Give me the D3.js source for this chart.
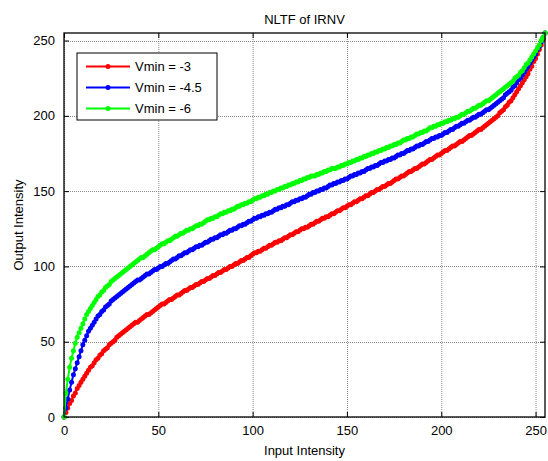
<!DOCTYPE html>
<html>
<head>
<meta charset="utf-8">
<script src="https://cdn.jsdelivr.net/npm/d3@7"></script>
<style>
  body { margin: 0; background: #fff; }
  svg text { font-family: "Liberation Sans", Arial, Helvetica, sans-serif; fill: #000; }
</style>
</head>
<body>
<div id="chart"></div>
<script>
// Output intensity for each input intensity (array index = input intensity, 0..255)
const vminLabels = ["Vmin = -3", "Vmin = -4.5", "Vmin = -6"];
const lineColors = ["#ff0000", "#0000ff", "#00ff00"];
const xTicks = [0, 50, 100, 150, 200, 250];
const yTicks = [0, 50, 100, 150, 200, 250];

const vmin3 = [
  0, 3, 6, 9, 11, 14, 16, 19, 21, 23, 25,
  27, 29, 31, 33, 34, 36, 38, 39, 41, 42,
  44, 45, 46, 48, 49, 50, 51, 53, 54, 55,
  56, 57, 58, 59, 60, 61, 62, 63, 63, 64,
  65, 66, 67, 68, 68, 69, 70, 71, 72, 73,
  74, 75, 75, 76, 77, 78, 78, 79, 80, 81,
  81, 82, 83, 84, 84, 85, 86, 86, 87, 88,
  88, 89, 90, 90, 91, 92, 92, 93, 94, 94,
  95, 96, 96, 97, 98, 98, 99, 100, 100, 101,
  102, 102, 103, 104, 104, 105, 106, 106, 107, 108,
  109, 109, 110, 110, 111, 112, 112, 113, 114, 114,
  115, 116, 116, 117, 117, 118, 119, 119, 120, 121,
  121, 122, 123, 123, 124, 125, 125, 126, 126, 127,
  128, 128, 129, 130, 130, 131, 132, 132, 133, 133,
  134, 135, 135, 136, 137, 137, 138, 139, 139, 140,
  141, 141, 142, 143, 143, 144, 145, 145, 146, 147,
  147, 148, 149, 149, 150, 151, 151, 152, 153, 153,
  154, 155, 155, 156, 157, 158, 158, 159, 160, 160,
  161, 162, 163, 163, 164, 165, 165, 166, 167, 168,
  168, 169, 170, 171, 171, 172, 173, 174, 174, 175,
  176, 177, 177, 178, 179, 180, 180, 181, 182, 183,
  183, 184, 185, 186, 187, 187, 188, 189, 190, 191,
  191, 192, 193, 194, 195, 196, 197, 198, 199, 200,
  202, 203, 204, 206, 207, 209, 210, 212, 214, 216,
  218, 220, 222, 224, 226, 228, 231, 233, 236, 238,
  241, 244, 247, 251, 255
];

const vmin45 = [
  0, 6, 12, 18, 23, 28, 32, 36, 40, 44, 48,
  51, 54, 57, 59, 61, 63, 65, 67, 68, 70,
  71, 73, 74, 75, 77, 78, 79, 80, 81, 82,
  83, 84, 85, 86, 87, 88, 89, 90, 91, 91,
  92, 93, 94, 95, 95, 96, 97, 98, 98, 99,
  100, 100, 101, 102, 102, 103, 104, 105, 105, 106,
  107, 107, 108, 109, 109, 110, 111, 111, 112, 113,
  113, 114, 114, 115, 116, 116, 117, 118, 118, 119,
  119, 120, 121, 121, 122, 122, 123, 124, 124, 125,
  125, 126, 127, 127, 128, 128, 129, 130, 130, 131,
  132, 132, 133, 133, 134, 134, 135, 135, 136, 136,
  137, 138, 138, 139, 139, 140, 140, 141, 141, 142,
  143, 143, 144, 144, 145, 145, 146, 146, 147, 148,
  148, 149, 149, 150, 150, 151, 151, 152, 152, 153,
  154, 154, 155, 155, 156, 156, 157, 157, 158, 158,
  159, 160, 160, 161, 161, 162, 162, 163, 163, 164,
  165, 165, 166, 166, 167, 167, 168, 169, 169, 170,
  170, 171, 171, 172, 172, 173, 174, 174, 175, 175,
  176, 177, 177, 178, 178, 179, 180, 180, 181, 181,
  182, 183, 183, 184, 185, 185, 186, 186, 187, 187,
  188, 189, 189, 190, 191, 191, 192, 193, 193, 194,
  195, 195, 196, 197, 197, 198, 199, 199, 200, 201,
  201, 202, 203, 204, 204, 205, 206, 207, 208, 209,
  210, 211, 212, 214, 215, 216, 217, 219, 220, 222,
  224, 225, 227, 229, 231, 233, 235, 237, 239, 241,
  244, 246, 249, 252, 255
];

const vmin6 = [
  0, 16, 25, 33, 39, 44, 49, 53, 56, 59, 62,
  65, 68, 70, 72, 74, 76, 78, 80, 81, 83,
  84, 86, 87, 88, 90, 91, 92, 93, 94, 95,
  96, 97, 98, 99, 100, 101, 102, 103, 104, 105,
  106, 106, 107, 108, 109, 110, 111, 111, 112, 113,
  114, 115, 115, 116, 117, 117, 118, 119, 120, 120,
  121, 122, 122, 123, 124, 124, 125, 125, 126, 127,
  127, 128, 128, 129, 130, 131, 131, 132, 132, 133,
  133, 134, 135, 135, 136, 136, 137, 137, 138, 138,
  139, 140, 140, 141, 141, 142, 142, 143, 143, 144,
  145, 145, 146, 146, 147, 147, 148, 148, 149, 149,
  150, 150, 151, 151, 152, 152, 153, 153, 154, 154,
  155, 155, 156, 156, 157, 157, 158, 158, 159, 159,
  160, 160, 160, 161, 161, 162, 162, 163, 163, 164,
  164, 165, 165, 165, 166, 166, 167, 167, 168, 168,
  169, 169, 170, 170, 171, 171, 172, 172, 173, 173,
  174, 174, 175, 175, 176, 176, 177, 177, 178, 178,
  179, 179, 180, 180, 181, 181, 182, 182, 183, 184,
  184, 185, 185, 186, 186, 187, 188, 188, 189, 189,
  190, 190, 191, 192, 192, 193, 193, 194, 194, 195,
  195, 196, 196, 197, 197, 198, 198, 199, 199, 200,
  201, 201, 202, 203, 203, 204, 205, 205, 206, 207,
  207, 208, 209, 210, 210, 211, 212, 213, 214, 215,
  216, 217, 218, 219, 220, 221, 222, 223, 225, 226,
  227, 229, 230, 232, 234, 235, 237, 239, 241, 243,
  245, 247, 250, 252, 255
];

const seriesValues = [vmin3, vmin45, vmin6];

const width = 548, height = 461;
const margin = { top: 33, right: 3, bottom: 44, left: 64 };
const plotW = width - margin.left - margin.right;
const plotH = height - margin.top - margin.bottom;

const svg = d3.select("#chart").append("svg")
  .attr("width", width)
  .attr("height", height);

const g = svg.append("g")
  .attr("transform", `translate(${margin.left},${margin.top})`);

const x = d3.scaleLinear().domain([0, 255]).range([0, plotW]);
const y = d3.scaleLinear().domain([0, 255]).range([plotH, 0]);

// grid
g.append("g").selectAll("line").data(xTicks).join("line")
  .attr("x1", d => x(d) + 0.5).attr("x2", d => x(d) + 0.5)
  .attr("y1", 0).attr("y2", plotH)
  .attr("stroke", "#8a8a8a").attr("stroke-width", 1)
  .attr("stroke-dasharray", "1,1");
g.append("g").selectAll("line").data(yTicks).join("line")
  .attr("y1", d => Math.round(y(d)) + 0.5).attr("y2", d => Math.round(y(d)) + 0.5)
  .attr("x1", 0).attr("x2", plotW)
  .attr("stroke", "#8a8a8a").attr("stroke-width", 1)
  .attr("stroke-dasharray", "1,1");

// axes: inward ticks on all four sides (box on)
const fontSize = "13px";
const bottomAxis = g.append("g").attr("transform", `translate(0,${plotH})`)
  .call(d3.axisBottom(x).tickValues(xTicks).tickSizeInner(-5).tickSizeOuter(0).tickPadding(9));
const leftAxis = g.append("g")
  .call(d3.axisLeft(y).tickValues(yTicks).tickSizeInner(-5).tickSizeOuter(0).tickPadding(9));
const topAxis = g.append("g")
  .call(d3.axisTop(x).tickValues(xTicks).tickSizeInner(-5).tickSizeOuter(0).tickFormat(""));
const rightAxis = g.append("g").attr("transform", `translate(${plotW},0)`)
  .call(d3.axisRight(y).tickValues(yTicks).tickSizeInner(-5).tickSizeOuter(0).tickFormat(""));
[bottomAxis, leftAxis, topAxis, rightAxis].forEach(a => {
  a.select(".domain").remove();
  a.selectAll("line").attr("stroke", "#000");
  a.selectAll("text").style("font-size", fontSize);
});

// curves: line + dot markers, drawn in legend order
const line = d3.line().x((d, i) => x(i)).y(d => y(d));
seriesValues.forEach((vals, k) => {
  const s = g.append("g");
  s.append("path").datum(vals)
    .attr("fill", "none")
    .attr("stroke", lineColors[k])
    .attr("stroke-width", 2)
    .attr("d", line);
  s.selectAll("circle").data(vals).join("circle")
    .attr("cx", (d, i) => x(i))
    .attr("cy", d => y(d))
    .attr("r", 2.5)
    .attr("fill", lineColors[k]);
});

// box
g.append("rect")
  .attr("x", 0).attr("y", 0).attr("width", plotW).attr("height", plotH)
  .attr("fill", "none").attr("stroke", "#000").attr("stroke-width", 1.3);

// title + axis labels
svg.append("text")
  .attr("x", margin.left + plotW / 2).attr("y", 24)
  .attr("text-anchor", "middle").style("font-size", fontSize)
  .text("NLTF of IRNV");
svg.append("text")
  .attr("x", margin.left + plotW / 2).attr("y", 455)
  .attr("text-anchor", "middle").style("font-size", fontSize)
  .text("Input Intensity");
svg.append("text")
  .attr("transform", `translate(23,${margin.top + plotH / 2}) rotate(-90)`)
  .attr("text-anchor", "middle").style("font-size", fontSize)
  .text("Output Intensity");

// legend
const legend = g.append("g").attr("transform", "translate(13,20)");
legend.append("rect")
  .attr("x", 0).attr("y", 0).attr("width", 140).attr("height", 67)
  .attr("fill", "#fff").attr("stroke", "#000").attr("stroke-width", 1);
vminLabels.forEach((label, k) => {
  const cy = 13.5 + k * 21;
  legend.append("line")
    .attr("x1", 9).attr("x2", 53).attr("y1", cy).attr("y2", cy)
    .attr("stroke", lineColors[k]).attr("stroke-width", 2);
  legend.append("circle")
    .attr("cx", 31).attr("cy", cy).attr("r", 2.5)
    .attr("fill", lineColors[k]);
  legend.append("text")
    .attr("x", 58).attr("y", cy).attr("dy", "0.35em")
    .style("font-size", fontSize)
    .text(label);
});
</script>
</body>
</html>
